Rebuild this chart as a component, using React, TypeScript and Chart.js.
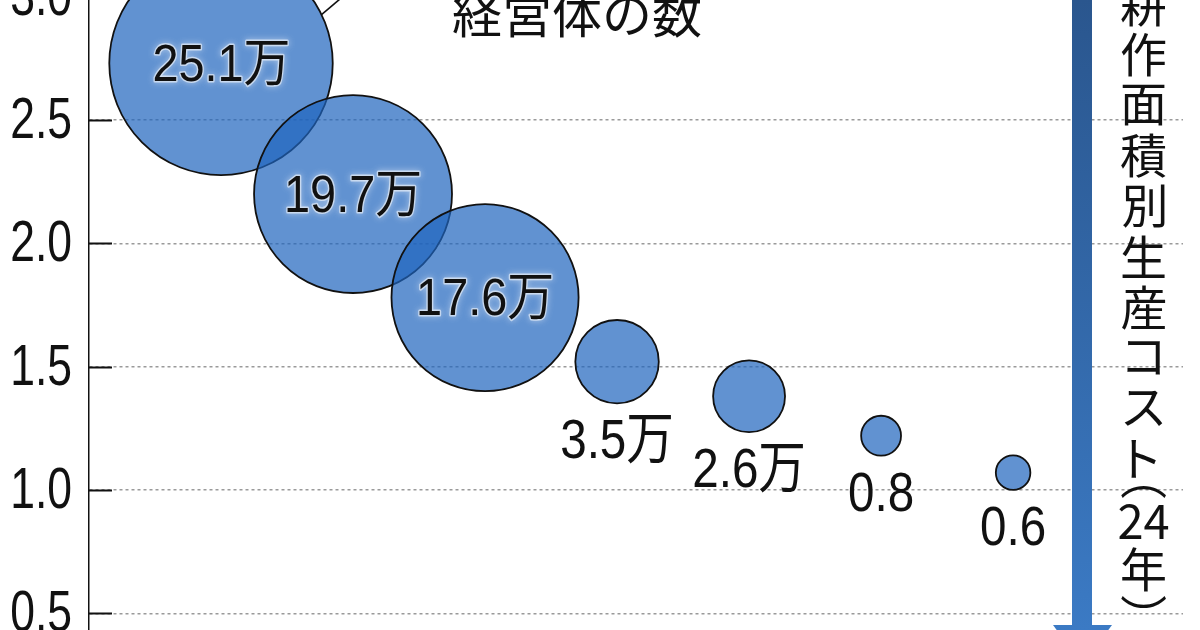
import React, { useEffect, useRef } from 'react';
import { Chart, registerables } from 'chart.js';

Chart.register(...registerables);

// ---- data ----
const sizeClass = [0, 1, 2, 3, 4, 5, 6];
const costPerArea = [2.73, 2.2, 1.78, 1.52, 1.38, 1.22, 1.07];
const farmCount = [25.1, 19.7, 17.6, 3.5, 2.6, 0.8, 0.6]; // 万経営体
const countLabels = ['25.1万', '19.7万', '17.6万', '3.5万', '2.6万', '0.8', '0.6'];
const yTicks = [0.5, 1.0, 1.5, 2.0, 2.5, 3.0];
const titleText = '経営体の数';
const sideText = '耕作面積別生産コスト（24年）';

// ---- layout constants ----
const OFF = 80; // canvas extends above the visible page
const CW = 1200;
const CH = 790;
const NUM_FONT = "'Liberation Sans', 'Noto Sans CJK JP', sans-serif";
const CJK_FONT = "'Noto Sans CJK JP', sans-serif";
const R_SCALE = 22.3;

function inkBox(ctx: CanvasRenderingContext2D, text: string) {
  ctx.textAlign = 'left';
  ctx.textBaseline = 'alphabetic';
  const m = ctx.measureText(text);
  return {
    cx: (m.actualBoundingBoxRight - m.actualBoundingBoxLeft) / 2,
    cy: (m.actualBoundingBoxDescent - m.actualBoundingBoxAscent) / 2,
    right: m.actualBoundingBoxRight,
  };
}

function drawInkCentered(
  ctx: CanvasRenderingContext2D,
  text: string,
  x: number,
  y: number,
  rot = 0,
  sx = 1
) {
  ctx.save();
  const b = inkBox(ctx, text);
  ctx.translate(x, y);
  if (rot) ctx.rotate(rot);
  if (sx !== 1) ctx.scale(sx, 1);
  ctx.fillText(text, -b.cx, -b.cy);
  ctx.restore();
}

const annotations = {
  id: 'annotations',
  afterDatasetsDraw(chart: any) {
    const ctx: CanvasRenderingContext2D = chart.ctx;
    const ys = chart.scales.y;
    const area = chart.chartArea;
    const meta = chart.getDatasetMeta(0);

    // inner solid tick marks + tick labels (from the y scale's ticks)
    ctx.save();
    ctx.strokeStyle = '#111';
    ctx.fillStyle = '#111';
    ctx.lineWidth = 2;
    ctx.font = `57px ${NUM_FONT}`;
    ys.ticks.forEach((t: any) => {
      const py = Math.round(ys.getPixelForValue(t.value)) + 0.5;
      ctx.beginPath();
      ctx.moveTo(area.left, py);
      ctx.lineTo(area.left + 23, py);
      ctx.stroke();
      ctx.save();
      ctx.translate(area.left - 17, py + 2);
      ctx.scale(0.78, 1);
      ctx.textAlign = 'right';
      ctx.textBaseline = 'middle';
      ctx.fillText(Number(t.value).toFixed(1), 0, 0);
      ctx.restore();
    });
    ctx.restore();

    // leader line from the largest bubble to the title
    const el0 = meta.data[0];
    const r0 = el0.options.radius;
    const th = Math.atan2(-49, 101);
    const sx = el0.x + r0 * Math.cos(th);
    const sy = el0.y + r0 * Math.sin(th);
    ctx.save();
    ctx.strokeStyle = '#111';
    ctx.lineWidth = 1.6;
    ctx.beginPath();
    ctx.moveTo(sx, sy);
    ctx.lineTo(sx + 26, sy - 22);
    ctx.stroke();
    ctx.restore();

    // bubble labels
    meta.data.forEach((el: any, i: number) => {
      const r = el.options.radius;
      const label = countLabels[i];
      ctx.save();
      if (r > 60) {
        ctx.font = `52px ${NUM_FONT}`;
        const b = inkBox(ctx, label);
        ctx.save();
        ctx.translate(el.x, el.y);
        ctx.scale(0.9, 1);
        ctx.shadowColor = 'rgba(255,255,255,0.95)';
        ctx.shadowBlur = 6;
        ctx.strokeStyle = 'rgba(255,255,255,0.55)';
        ctx.lineWidth = 3;
        ctx.lineJoin = 'round';
        ctx.strokeText(label, -b.cx, -b.cy);
        ctx.restore();
        ctx.fillStyle = '#111';
        drawInkCentered(ctx, label, el.x, el.y, 0, 0.9);
      } else {
        ctx.font = `56px ${NUM_FONT}`;
        ctx.fillStyle = '#111';
        ctx.translate(el.x, el.y + r + 55);
        ctx.scale(0.85, 1);
        ctx.textAlign = 'center';
        ctx.textBaseline = 'alphabetic';
        ctx.fillText(label, 0, 0);
      }
      ctx.restore();
    });
  },
  afterDraw(chart: any) {
    const ctx: CanvasRenderingContext2D = chart.ctx;

    // arrow
    ctx.save();
    const g = ctx.createLinearGradient(0, OFF, 0, OFF + 630);
    g.addColorStop(0, '#2a568e');
    g.addColorStop(1, '#3b7ac4');
    ctx.fillStyle = g;
    ctx.fillRect(1072, 0, 20, OFF + 625);
    ctx.beginPath();
    ctx.moveTo(1053, OFF + 625);
    ctx.lineTo(1112, OFF + 625);
    ctx.lineTo(1082.5, OFF + 665);
    ctx.closePath();
    ctx.fill();
    ctx.restore();

    // title
    ctx.save();
    ctx.fillStyle = '#111';
    ctx.font = `50px ${CJK_FONT}`;
    drawInkCentered(ctx, titleText, 577, OFF + 14);
    ctx.restore();

    // vertical text
    ctx.save();
    ctx.fillStyle = '#111';
    ctx.font = `47px ${CJK_FONT}`;
    const tokens = sideText.match(/[0-9]+|./gu) || [];
    const half = (t: string) => (t === '（' || t === '）' ? 8 : /[0-9]/.test(t) ? 22 : 25.25);
    let y = OFF + 4;
    tokens.forEach((t, i) => {
      if (i > 0) y += half(tokens[i - 1]) + half(t);
      if (t === '（' || t === '）') {
        drawInkCentered(ctx, t, 1143.5, y, Math.PI / 2);
      } else {
        drawInkCentered(ctx, t, 1143.5, y);
      }
    });
    ctx.restore();
  },
};

export default function App() {
  const ref = useRef<HTMLCanvasElement | null>(null);

  useEffect(() => {
    if (!ref.current) return;
    const chart = new Chart(ref.current, {
      type: 'bubble',
      data: {
        datasets: [
          {
            data: sizeClass.map((x, i) => ({
              x,
              y: costPerArea[i],
              r: R_SCALE * Math.sqrt(farmCount[i]),
            })),
            backgroundColor: 'rgba(30,100,190,0.7)',
            borderColor: '#111',
            borderWidth: 1.8,
          },
        ],
      },
      options: {
        animation: false,
        responsive: false,
        maintainAspectRatio: false,
        events: [],
        layout: { autoPadding: false, padding: { top: 60, bottom: 60, left: 0, right: 17 } },
        plugins: { legend: { display: false }, tooltip: { enabled: false } },
        scales: {
          x: { type: 'linear', display: false, min: -1, max: 7.287 },
          y: {
            type: 'linear',
            position: 'left',
            min: 0.351,
            max: 3.068,
            afterBuildTicks: (s: any) => {
              s.ticks = yTicks.map((v) => ({ value: v }));
            },
            afterFit: (s: any) => {
              s.width = 89;
            },
            ticks: { display: false },
            grid: { color: '#9a9a9a', lineWidth: 1.5, drawTicks: false },
            border: { display: true, color: '#111', width: 1.5, dash: [3, 3] },
          },
        },
      },
      plugins: [annotations],
    } as any);
    return () => chart.destroy();
  }, []);

  return (
    <div
      style={{
        position: 'fixed',
        left: 0,
        top: 0,
        width: 1200,
        height: 630,
        overflow: 'hidden',
        background: '#fff',
      }}
    >
      <div style={{ position: 'absolute', left: 0, top: -OFF, width: CW, height: CH }}>
        <canvas ref={ref} width={CW} height={CH} style={{ display: 'block', width: CW, height: CH }} />
      </div>
    </div>
  );
}
